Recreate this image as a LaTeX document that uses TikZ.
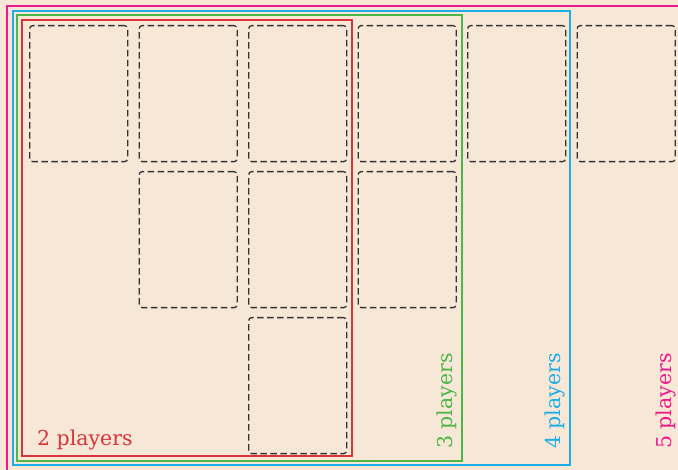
\documentclass[tikz,border=0pt]{standalone}
\usepackage{fontspec}
\setmainfont{DejaVu Serif}
\begin{document}
\begin{tikzpicture}[x=1pt,y=-1pt,
  card/.style={draw=black!80,dashed,dash pattern=on 6.5pt off 3.5pt,line width=1.3pt,rounded corners=3pt,
    minimum width=98pt,minimum height=136pt,anchor=north west,inner sep=0pt},
  zone/.style={line width=2pt},
  lbl/.style={font=\fontsize{20.5}{22}\selectfont,inner sep=0pt}]
\definecolor{bg}{HTML}{F6E7D6}
\definecolor{cred}{HTML}{D8343A}
\definecolor{cgreen}{HTML}{4CB748}
\definecolor{ccyan}{HTML}{1DAEE8}
\definecolor{cpink}{HTML}{EC1A8C}
\useasboundingbox (0,0) rectangle (678,470);
\clip (0,0) rectangle (678,470);
\fill[bg] (0,0) rectangle (678,470);
% zones
\draw[zone,cpink] (7,6) rectangle (690,480);
\draw[zone,ccyan] (12.5,11) rectangle (570,465.5);
\draw[zone,cgreen] (16.5,15.5) rectangle (462,461);
\draw[zone,cred] (21.5,20) rectangle (352,456.5);
% cards
\foreach \c/\xl in {1/29,2/138.5,3/248,4/357.5,5/467,6/576.5}{
  \node[card] (r1c\c) at (\xl,25) {};
}
\foreach \c/\xl in {2/138.5,3/248,4/357.5}{
  \node[card] (r2c\c) at (\xl,171) {};
}
\node[card] (r3c3) at (248,317) {};
% labels
\node[lbl,cred,anchor=base west] (l2) at (37,446) {2 players};
\node[lbl,cgreen,anchor=base west,rotate=90] (l3) at (452,449) {3 players};
\node[lbl,ccyan,anchor=base west,rotate=90] (l4) at (560,449) {4 players};
\node[lbl,cpink,anchor=base west,rotate=90] (l5) at (671,449) {5 players};
\end{tikzpicture}
\end{document}
